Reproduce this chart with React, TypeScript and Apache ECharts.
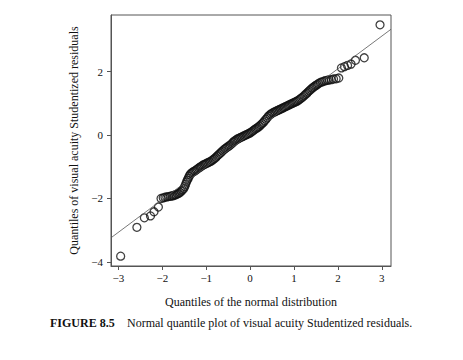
import React, { useEffect, useRef } from "react";
import * as echarts from "echarts";

// Theoretical normal quantiles (x) and Studentized residual quantiles (y)
const normalQuantiles = [
  -2.95, -2.58, -2.41, -2.27, -2.19, -2.09, -2.03, -1.98, -1.94, -1.9, -1.86, -1.82, -1.78, -1.75,
  -1.72, -1.69, -1.66, -1.63, -1.6, -1.57, -1.54, -1.51, -1.49, -1.47, -1.45, -1.43, -1.41, -1.39,
  -1.37, -1.35, -1.32, -1.29, -1.26, -1.23, -1.2, -1.17, -1.14, -1.11, -1.08, -1.05, -1.02, -0.99,
  -0.96, -0.93, -0.9, -0.87, -0.84, -0.81, -0.78, -0.75, -0.72, -0.69, -0.66, -0.63, -0.6, -0.57,
  -0.54, -0.51, -0.48, -0.45, -0.42, -0.39, -0.36, -0.33, -0.3, -0.27, -0.24, -0.21, -0.18, -0.15,
  -0.12, -0.09, -0.06, -0.03, 0.0, 0.03, 0.06, 0.09, 0.12, 0.15, 0.18, 0.21, 0.24, 0.27, 0.3, 0.33,
  0.36, 0.39, 0.42, 0.45, 0.48, 0.51, 0.54, 0.57, 0.6, 0.63, 0.66, 0.69, 0.72, 0.75, 0.78, 0.81,
  0.84, 0.87, 0.9, 0.93, 0.96, 0.99, 1.02, 1.05, 1.08, 1.11, 1.14, 1.17, 1.2, 1.23, 1.26, 1.29, 1.32,
  1.35, 1.38, 1.41, 1.44, 1.47, 1.5, 1.53, 1.56, 1.6, 1.64, 1.68, 1.72, 1.76, 1.8, 1.85, 1.9, 1.96,
  2.02, 2.08, 2.15, 2.22, 2.3, 2.4, 2.6, 2.96,
];
const residualQuantiles = [
  -3.82, -2.91, -2.61, -2.55, -2.42, -2.27, -2.0, -1.98, -1.96, -1.95, -1.94, -1.93, -1.92, -1.91,
  -1.89, -1.88, -1.86, -1.84, -1.81, -1.77, -1.73, -1.68, -1.62, -1.55, -1.48, -1.42, -1.36, -1.3,
  -1.25, -1.21, -1.18, -1.15, -1.13, -1.1, -1.07, -1.04, -1.01, -0.98, -0.95, -0.93, -0.91, -0.89,
  -0.87, -0.85, -0.83, -0.8, -0.77, -0.74, -0.7, -0.66, -0.62, -0.58, -0.54, -0.5, -0.46, -0.43,
  -0.4, -0.37, -0.34, -0.31, -0.27, -0.23, -0.19, -0.16, -0.13, -0.11, -0.09, -0.07, -0.05, -0.03,
  -0.01, 0.01, 0.03, 0.05, 0.07, 0.1, 0.13, 0.16, 0.19, 0.22, 0.25, 0.28, 0.32, 0.36, 0.4, 0.45,
  0.5, 0.55, 0.6, 0.64, 0.67, 0.7, 0.72, 0.74, 0.76, 0.78, 0.8, 0.82, 0.84, 0.86, 0.88, 0.9, 0.92,
  0.94, 0.96, 0.98, 1.0, 1.02, 1.04, 1.06, 1.08, 1.11, 1.14, 1.17, 1.2, 1.24, 1.28, 1.32, 1.36, 1.4,
  1.44, 1.48, 1.51, 1.54, 1.57, 1.6, 1.63, 1.66, 1.68, 1.7, 1.72, 1.73, 1.74, 1.75, 1.77, 1.78,
  1.8, 2.12, 2.16, 2.2, 2.24, 2.36, 2.44, 3.48,
];

// Reference line endpoints
const refLineX = [-3.17, 3.21];
const refLineY = [-3.24, 3.34];

const xTicks = [-3, -2, -1, 0, 1, 2, 3];
const yTicks = [-4, -2, 0, 2];

const xTitle = "Quantiles of the normal distribution";
const yTitle = "Quantiles of visual acuity Studentized residuals";
const captionLabel = "FIGURE 8.5";
const captionText = "Normal quantile plot of visual acuity Studentized residuals.";

const FONT = "Liberation Serif";

export default function App() {
  const ref = useRef<HTMLDivElement>(null);
  useEffect(() => {
    if (!ref.current) return;
    const chart = echarts.init(ref.current, undefined, { renderer: "svg" });
    const points = normalQuantiles.map((x, i) => [x, residualQuantiles[i]]);
    const line = refLineX.map((x, i) => [x, refLineY[i]]);
    const minus = (v: number) => (v < 0 ? "\u2212" + Math.abs(v) : String(v));
    chart.setOption({
      animation: false,
      backgroundColor: "#ffffff",
      textStyle: { fontFamily: FONT },
      grid: {
        left: 111,
        top: 15,
        width: 280,
        height: 251,
        show: true,
        borderColor: "#555",
        borderWidth: 1,
        backgroundColor: "transparent",
      },
      xAxis: {
        type: "value",
        min: -3.17,
        max: 3.21,
        name: xTitle,
        nameLocation: "middle",
        nameGap: 30,
        nameTextStyle: { fontFamily: FONT, fontSize: 12, color: "#111" },
        axisLine: { show: true, onZero: false, lineStyle: { color: "#555", width: 1 } },
        axisTick: { show: true, length: 4, inside: false, customValues: xTicks, lineStyle: { color: "#555" } },
        axisLabel: {
          customValues: xTicks,
          margin: 6,
          fontFamily: FONT,
          fontSize: 11,
          color: "#111",
          formatter: (v: number) => minus(v),
        },
        splitLine: { show: false },
      },
      yAxis: {
        type: "value",
        min: -4.13,
        max: 3.79,
        name: yTitle,
        nameLocation: "middle",
        nameGap: 26,
        nameRotate: 90,
        nameTextStyle: { fontFamily: FONT, fontSize: 12, color: "#111" },
        axisLine: { show: true, onZero: false, lineStyle: { color: "#555", width: 1 } },
        axisTick: { show: true, length: 4, inside: false, customValues: yTicks, lineStyle: { color: "#555" } },
        axisLabel: {
          customValues: yTicks,
          margin: 8,
          fontFamily: FONT,
          fontSize: 11,
          color: "#111",
          formatter: (v: number) => minus(v),
        },
        splitLine: { show: false },
      },
      series: [
        {
          type: "line",
          data: line,
          showSymbol: false,
          symbol: "none",
          lineStyle: { color: "#555", width: 0.8 },
          clip: true,
          silent: true,
        },
        {
          type: "scatter",
          data: points,
          symbol: "circle",
          symbolSize: 8,
          itemStyle: { color: "rgba(0,0,0,0)", borderColor: "#111", borderWidth: 1.3 },
        },
      ],
      graphic: [
        {
          type: "text",
          left: 50,
          top: 317,
          style: { text: captionLabel, fontFamily: FONT, fontSize: 12, fontWeight: "bold", fill: "#111" },
        },
        {
          type: "text",
          left: 127,
          top: 317,
          style: { text: captionText, fontFamily: FONT, fontSize: 12, fill: "#111" },
        },
      ],
    });
    return () => chart.dispose();
  }, []);
  return (
    <div
      ref={ref}
      style={{ position: "fixed", left: 0, top: 0, width: 463, height: 360 }}
    />
  );
}
